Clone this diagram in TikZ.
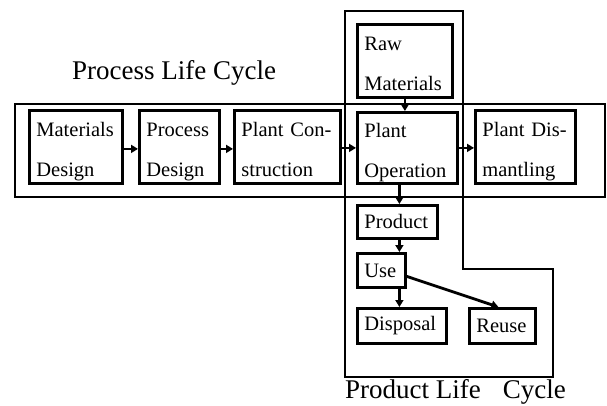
\documentclass[tikz,border=0pt]{standalone}
\usepackage{fontspec}
\setmainfont{Liberation Serif}
\usetikzlibrary{arrows.meta}
\begin{document}
\begin{tikzpicture}[x=1pt,y=-1pt,
  box/.style={draw,line width=2.8pt,rectangle,anchor=north west,inner ysep=0pt,inner xsep=7pt,
    align=left,font=\fontsize{20.5}{40}\selectfont},
  twoline/.style={text height=14pt,text depth=35pt},
  arr/.style={line width=2.8pt,-{Triangle[length=7pt,width=8pt]}},
  frame/.style={line width=2pt},
  title/.style={anchor=base west,inner sep=0pt,font=\fontsize{27}{30}\selectfont}]
\useasboundingbox (0,0) rectangle (607,405);
% frames
\draw[frame] (15,104) rectangle (605,197);
\draw[frame] (345,11) -- (463,11) -- (463,269) -- (553,269) -- (553,377) -- (345,377) -- cycle;
% boxes
\node[box,twoline,minimum width=93pt,minimum height=73pt,text width=79pt] (matdes) at (28,109) {Materials\\Design};
\node[box,twoline,minimum width=80pt,minimum height=73pt,text width=66pt] (procdes) at (138,109) {Process\\Design};
\node[box,twoline,minimum width=106pt,minimum height=73pt,text width=92pt] (plantcon) at (233,109) {Plant Con-\\struction};
\node[box,twoline,minimum width=100pt,minimum height=71pt,text width=86pt] (plantop) at (356,111) {Plant\\Operation};
\node[box,twoline,minimum width=100pt,minimum height=73pt,text width=86pt] (dismant) at (474,109) {Plant Dis-\\mantling};
\node[box,twoline,minimum width=95pt,minimum height=73pt,text width=81pt] (raw) at (356,23) {Raw\\Materials};
\node[box,minimum width=80pt,minimum height=33pt,text width=66pt] (product) at (356,204) {Product};
\node[box,minimum width=48pt,minimum height=34pt,text width=34pt] (use) at (356,252) {Use};
\node[box,minimum width=89pt,minimum height=35pt,text width=75pt] (disposal) at (356,307) {Disposal};
\node[box,minimum width=66pt,minimum height=35pt,text width=52pt] (reuse) at (468,307) {Reuse};
% titles
\node[title] (ptitle) at (72,79) {Process Life Cycle};
\node[title] (ltitle) at (345,398) {Product Life\hspace{22pt}Cycle};
% arrows
\draw[arr] ([yshift=-2pt]matdes.east) -- ([yshift=-2pt]matdes.east -| procdes.west);
\draw[arr] ([yshift=-2pt]procdes.east) -- ([yshift=-2pt]procdes.east -| plantcon.west);
\draw[arr] ([yshift=-1pt]plantcon.east) -- ([yshift=-1pt]plantcon.east -| plantop.west);
\draw[arr] (plantop.east) -- (plantop.east -| dismant.west);
\draw[arr] (raw.south) -- (raw.south |- plantop.north);
\draw[arr] ([xshift=2pt]product.north |- plantop.south) -- ([xshift=2pt]product.north);
\draw[arr] ([xshift=2pt]product.south) -- ([xshift=2pt]product.south |- use.north);
\draw[arr] ([xshift=2pt]product.south |- use.south) -- ([xshift=2pt]product.south |- disposal.north);
\draw[arr] ([yshift=-6pt]use.east) -- ([xshift=-4pt]reuse.north);
\end{tikzpicture}
\end{document}
